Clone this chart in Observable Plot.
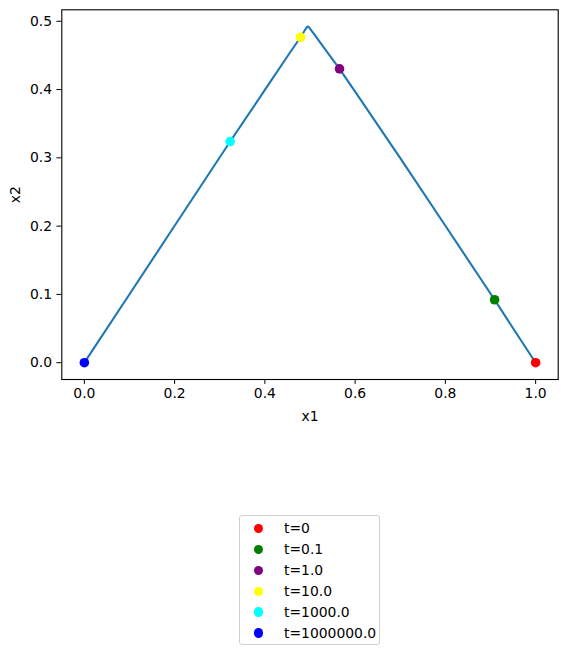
<!DOCTYPE html>
<html>
<head>
<meta charset="utf-8">
<script src="https://cdn.jsdelivr.net/npm/d3@7"></script>
<script src="https://cdn.jsdelivr.net/npm/@observablehq/plot@0.6"></script>
<style>
  html, body { margin: 0; padding: 0; background: #fff; }
  #wrap { position: relative; width: 567px; height: 655px; font-family: "DejaVu Sans", sans-serif; }
  #legend { position: absolute; left: 239px; top: 515px; width: 141px; height: 130px;
            border: 1px solid #d0d0d0; border-radius: 3px; box-sizing: border-box; background: #fff; }
  .row { position: absolute; left: 0; height: 20px; font-size: 13.9px; color: #000; }
  .dot { position: absolute; width: 9.6px; height: 9.6px; border-radius: 50%; }
  .lab { position: absolute; left: 44px; white-space: nowrap; line-height: 16px; }
</style>
</head>
<body>
<div id="wrap"></div>
<script>
// trajectory (x1, x2)
const x1 = [1.0, 0.95, 0.9091, 0.8, 0.7, 0.6, 0.5654, 0.552, 0.530, 0.512, 0.502, 0.498, 0.4955, 0.4935, 0.491, 0.479, 0.4561, 0.4, 0.3231, 0.2, 0.1, 0.0];
const x2 = [0.0, 0.0505, 0.0922, 0.2005, 0.2995, 0.397, 0.4303, 0.4425, 0.462, 0.4785, 0.4875, 0.4910, 0.4924, 0.4918, 0.4895, 0.4766, 0.4546, 0.3995, 0.3239, 0.2005, 0.1003, 0.0];

// marked time points
const tLabels = ["t=0", "t=0.1", "t=1.0", "t=10.0", "t=1000.0", "t=1000000.0"];
const tX1 = [1.0, 0.9091, 0.5654, 0.479, 0.3231, 0.0];
const tX2 = [0.0, 0.0922, 0.4303, 0.4766, 0.3239, 0.0];
const tColors = ["red", "green", "purple", "yellow", "cyan", "blue"];

// tick labels
const xTicks = [0.0, 0.2, 0.4, 0.6, 0.8, 1.0];
const yTicks = [0.0, 0.1, 0.2, 0.3, 0.4, 0.5];

const line = x1.map((v, i) => ({x1: v, x2: x2[i]}));
const pts = tLabels.map((l, i) => ({label: l, x1: tX1[i], x2: tX2[i], color: tColors[i]}));

const font = "DejaVu Sans";
const chart = Plot.plot({
  width: 567,
  height: 440,
  marginLeft: 61.3,
  marginRight: 9.3,
  marginTop: 9.3,
  marginBottom: 61,
  style: {fontFamily: font, fontSize: "13.9px", color: "#000", background: "#fff"},
  x: {domain: [-0.05, 1.05]},
  y: {domain: [-0.0246, 0.5168]},
  marks: [
    Plot.frame({stroke: "#000", strokeWidth: 1.1}),
    Plot.axisX({ticks: xTicks, tickFormat: d3.format(".1f"), tickSize: 4.9, tickPadding: 3.5,
      fontSize: "13.9px", stroke: "#000", label: "x1", labelAnchor: "center", labelArrow: "none", labelOffset: 41}),
    Plot.axisY({ticks: yTicks, tickFormat: d3.format(".1f"), tickSize: 4.9, tickPadding: 4.9,
      fontSize: "13.9px", stroke: "#000", label: "x2", labelAnchor: "center", labelArrow: "none", labelOffset: 52}),
    Plot.line(line, {x: "x1", y: "x2", stroke: "#1f77b4", strokeWidth: 2.1, curve: "linear", strokeLinejoin: "round"}),
    Plot.dot(pts, {x: "x1", y: "x2", fill: "color", r: 4.8, stroke: null})
  ],
  color: {type: "identity"}
});
const wrap = document.getElementById("wrap");
wrap.appendChild(chart);

// legend built from the same arrays
const legend = d3.select(wrap).append("div").attr("id", "legend");
pts.forEach((p, i) => {
  const row = legend.append("div").attr("class", "row").style("top", (4 + 20.9 * i) + "px");
  row.append("div").attr("class", "dot")
    .style("left", (19.3 - 4.8 - 1) + "px").style("top", (8.7 - 4.8) + "px")
    .style("background", p.color);
  row.append("div").attr("class", "lab").style("top", "0px").text(p.label);
});
</script>
</body>
</html>
